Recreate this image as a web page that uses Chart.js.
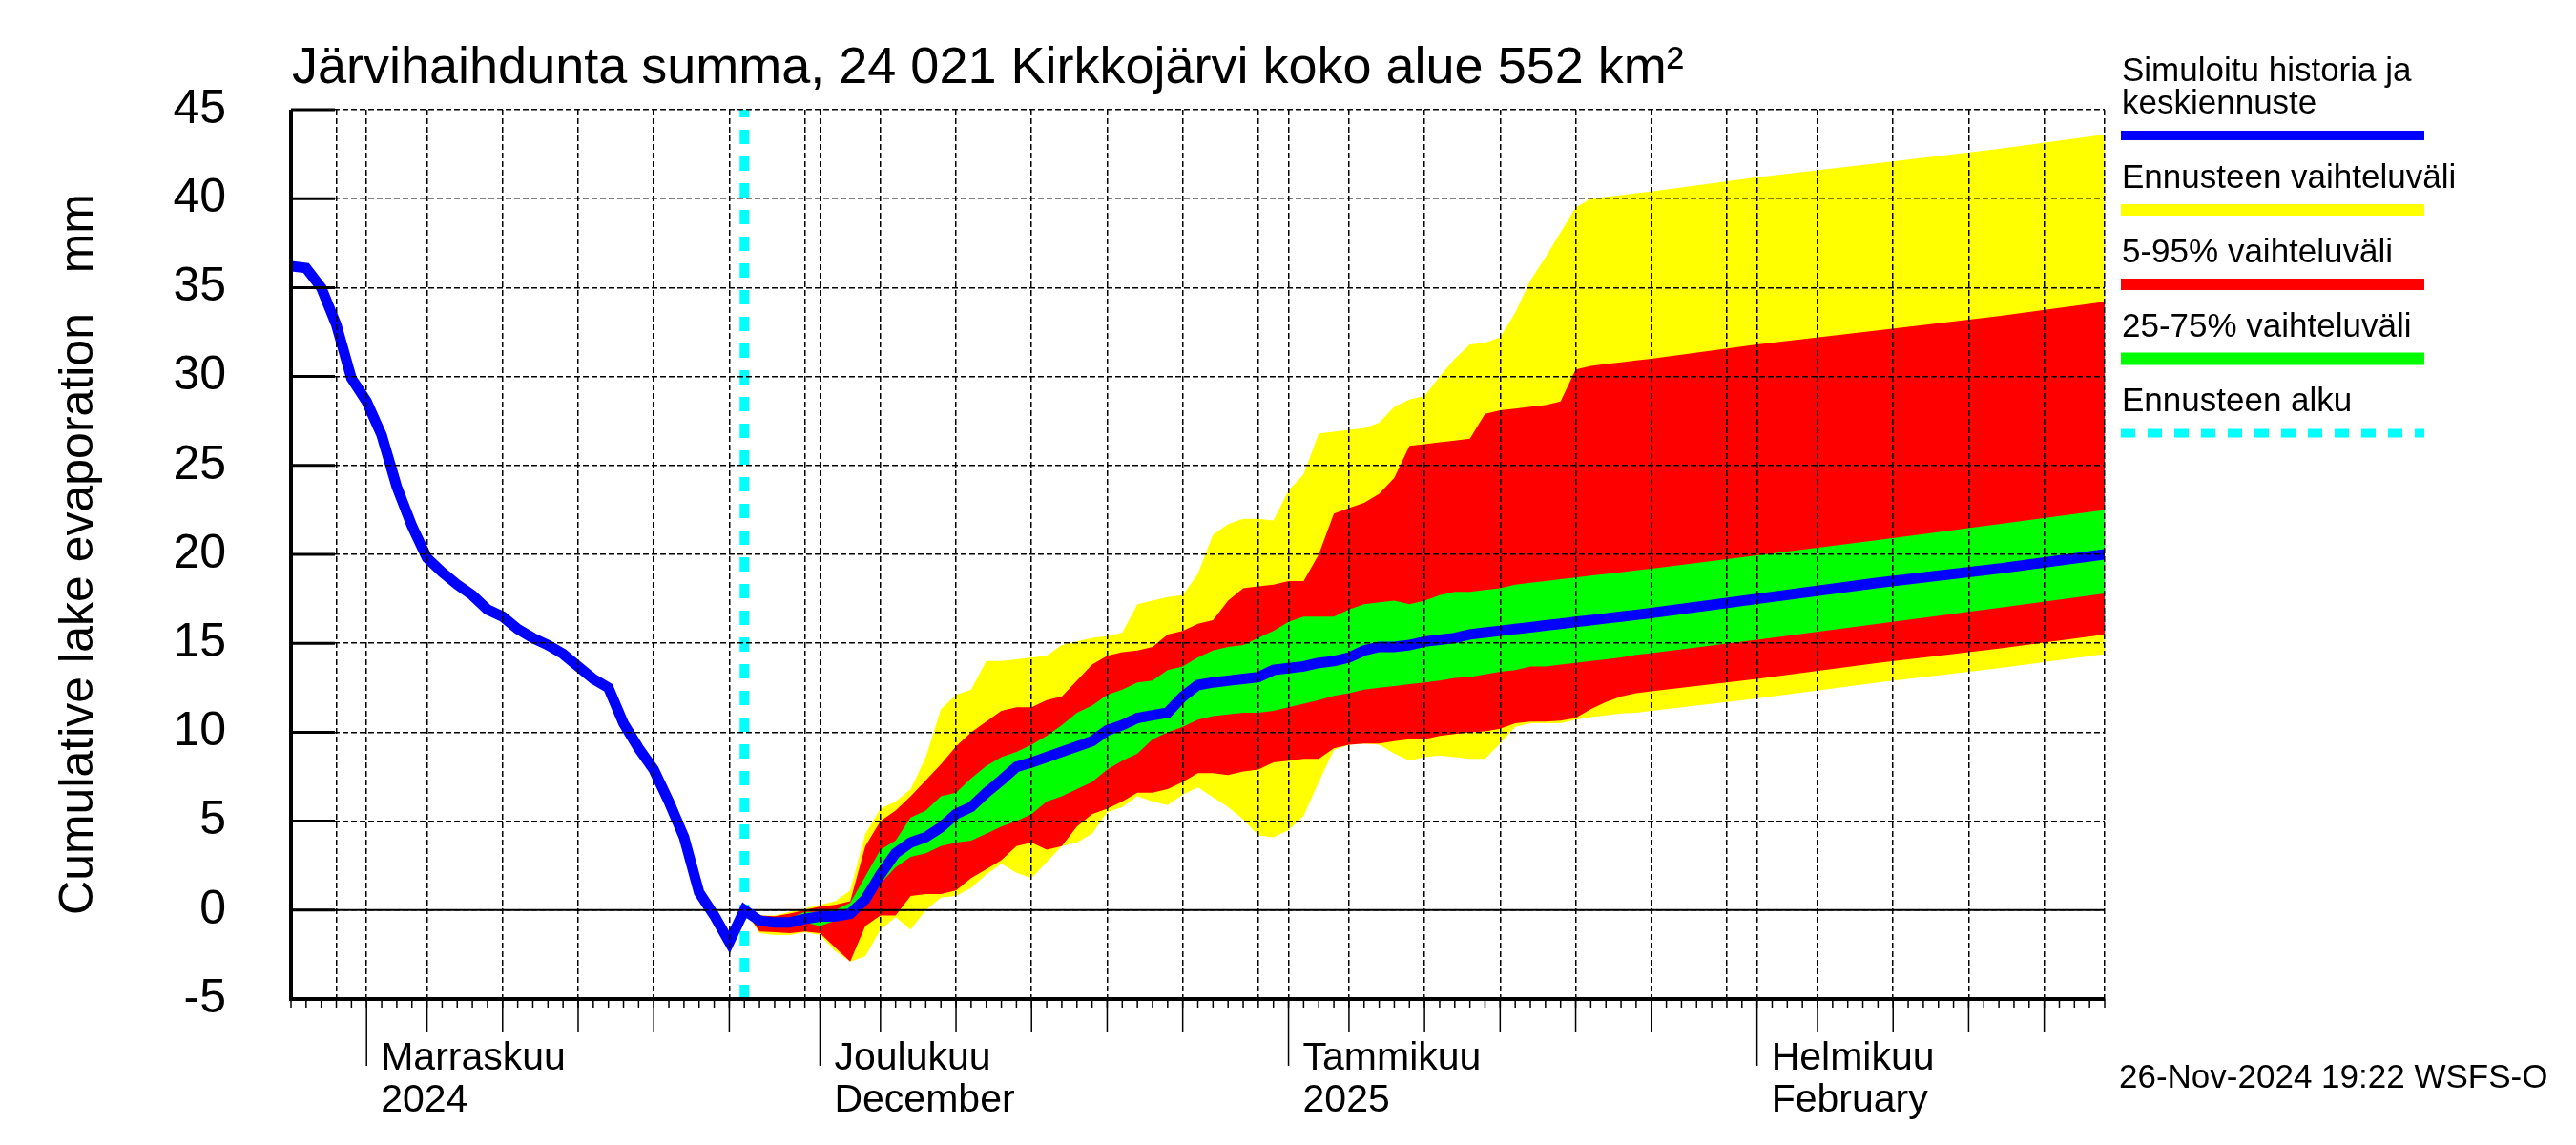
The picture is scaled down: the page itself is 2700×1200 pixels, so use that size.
<!DOCTYPE html>
<html>
<head>
<meta charset="utf-8">
<script src="https://cdn.jsdelivr.net/npm/chart.js@4.4.1/dist/chart.umd.min.js"></script>
<style>
  html, body { margin: 0; padding: 0; background: #fff; }
  #chart { display: block; }
</style>
</head>
<body>
<canvas id="chart" width="2700" height="1200"></canvas>
<script>
// days counted from 1 Nov 2024 (day 0)
const historyDays = [-5, -4, -3, -2, -1, 0, 1, 2, 3, 4, 5, 6, 7, 8, 9, 10, 11, 12, 13, 14, 15, 16, 17, 18, 19, 20, 21, 22, 23, 24, 25];
const historyValues = [36.2, 36.1, 35.0, 32.9, 29.9, 28.6, 26.7, 23.8, 21.6, 19.8, 19.0, 18.3, 17.7, 16.9, 16.5, 15.8, 15.3, 14.9, 14.4, 13.7, 13.0, 12.5, 10.5, 9.1, 7.9, 6.1, 4.1, 1.0, -0.3, -1.8, 0.0];

const forecastDays = [25, 26, 27, 28, 29, 30, 31, 32, 33, 34, 35, 36, 37, 38, 39, 40, 41, 42, 43, 44, 45, 46, 47, 48, 49, 50, 51, 52, 53, 54, 55, 56, 57, 58, 59, 60, 61, 62, 63, 64, 65, 66, 67, 68, 69, 70, 71, 72, 73, 74, 75, 76, 77, 78, 79, 80, 81, 82, 83, 84, 85, 92, 100, 108, 115];
const medianValues = [0.0, -0.6, -0.7, -0.7, -0.5, -0.36, -0.36, -0.2, 0.6, 2.0,
  3.2, 3.8, 4.1, 4.65, 5.4, 5.8, 6.6, 7.3, 8.05, 8.3,
  8.6, 8.9, 9.2, 9.5, 10.1, 10.4, 10.8, 10.95, 11.1, 12.0,
  12.65, 12.8, 12.9, 13.0, 13.1, 13.5, 13.6, 13.7, 13.9, 14.0,
  14.2, 14.6, 14.8, 14.8, 14.9, 15.1, 15.2, 15.3, 15.5, 15.6,
  15.7, 15.8, 15.9, 16.0, 16.1, 16.2,
  16.3, 16.4, 16.5, 16.6, 16.7, 17.5, 18.4, 19.2, 20.0];
const p75Values = [0.0, -0.45, -0.5, -0.45, -0.1, -0.1, 0.0, 0.4, 1.9, 3.4,
  3.9, 5.2, 5.6, 6.4, 6.6, 7.4, 8.1, 8.6, 8.9, 9.3,
  9.8, 10.4, 11.1, 11.5, 12.1, 12.4, 12.8, 12.9, 13.5, 13.7,
  14.2, 14.6, 14.8, 14.9, 15.3, 15.7, 16.2, 16.5, 16.5, 16.5,
  16.9, 17.2, 17.3, 17.4, 17.2, 17.4, 17.7, 17.9, 17.9, 18.0,
  18.1, 18.3, 18.4, 18.5, 18.6, 18.7,
  18.8, 18.9, 19.0, 19.1, 19.2, 19.95, 20.8, 21.7, 22.5];
const p25Values = [0.0, -0.8, -0.9, -0.8, -0.7, -0.9, -0.6, -0.35, 0.5, 1.5,
  2.4, 3.0, 3.2, 3.6, 3.8, 3.9, 4.3, 4.7, 5.0, 5.4,
  6.1, 6.4, 6.8, 7.2, 7.9, 8.4, 8.8, 9.6, 10.0, 10.3,
  10.7, 10.9, 11.0, 11.1, 11.1, 11.2, 11.4, 11.6, 11.8, 12.05,
  12.2, 12.4, 12.5, 12.6, 12.7, 12.8, 12.9, 13.05, 13.1, 13.25,
  13.4, 13.5, 13.7, 13.7, 13.8, 13.9,
  14.0, 14.1, 14.2, 14.35, 14.45, 15.2, 16.1, 17.0, 17.8];
const p95Values = [0.0, -0.3, -0.35, -0.2, 0.0, 0.2, 0.3, 0.5, 3.6, 5.0,
  5.6, 6.4, 7.3, 8.2, 9.2, 10.0, 10.6, 11.2, 11.4, 11.4,
  11.8, 12.0, 12.9, 13.8, 14.3, 14.5, 14.6, 14.8, 15.5, 15.7,
  16.1, 16.3, 17.4, 18.1, 18.2, 18.3, 18.5, 18.5, 20.0, 22.3,
  22.6, 22.9, 23.4, 24.3, 26.1, 26.2, 26.3, 26.4, 26.5, 27.9,
  28.1, 28.2, 28.3, 28.4, 28.6, 30.4,
  30.6, 30.7, 30.8, 30.9, 31.0, 31.8, 32.6, 33.4, 34.2];
const p5Values = [0.0, -1.2, -1.25, -1.3, -1.2, -1.3, -2.1, -2.9, -0.9, -0.3,
  -0.3, 0.8, 0.9, 0.9, 1.1, 1.8, 2.3, 2.8, 3.6, 3.8,
  3.4, 3.6, 4.7, 5.4, 5.7, 6.1, 6.6, 6.6, 6.8, 7.2,
  7.7, 7.7, 7.6, 7.8, 7.9, 8.3, 8.4, 8.5, 8.5, 9.1,
  9.3, 9.36, 9.36, 9.5, 9.6, 9.6, 9.8, 9.9, 10.0, 10.05,
  10.2, 10.5, 10.6, 10.6, 10.65, 10.8,
  11.3, 11.7, 12.0, 12.2, 12.3, 13.0, 13.9, 14.7, 15.5];
const maxValues = [0.0, -0.3, -0.3, -0.1, 0.1, 0.3, 0.5, 1.1, 4.3, 5.7,
  6.1, 6.8, 8.6, 11.3, 12.1, 12.4, 14.0, 14.0, 14.1, 14.2,
  14.3, 14.9, 15.1, 15.3, 15.4, 15.6, 17.2, 17.4, 17.6, 17.7,
  18.9, 21.1, 21.7, 22.0, 22.0, 21.9, 23.6, 24.5, 26.8, 26.9,
  27.0, 27.1, 27.4, 28.3, 28.7, 28.9, 30.0, 31.0, 31.8, 31.9,
  32.2, 33.6, 35.4, 36.7, 38.1, 39.5,
  40.0, 40.1, 40.2, 40.3, 40.4, 41.2, 42.0, 42.8, 43.6];
const minValues = [0.0, -1.3, -1.4, -1.4, -1.25, -1.4, -2.3, -2.9, -2.6, -1.1,
  -0.4, -1.1, 0.0, 0.7, 0.8, 1.25, 2.0, 2.6, 2.1, 1.8,
  2.7, 3.6, 3.8, 4.3, 5.5, 5.8, 6.4, 6.1, 5.9, 6.5,
  6.9, 6.35, 5.8, 5.1, 4.2, 4.1, 4.5, 5.3, 7.2, 9.0,
  9.3, 9.36, 9.3, 8.8, 8.4, 8.6, 8.7, 8.6, 8.5, 8.5,
  9.36, 10.3, 10.5, 10.5, 10.5, 10.7,
  10.85, 10.95, 11.05, 11.1, 11.2, 11.9, 12.8, 13.6, 14.4];

const forecastStart = 25;
const xMin = -5;
const xMax = 115;
const yMin = -5;
const yMax = 45;

// grid at month starts and every 5th day, 5-day tick marks below axis
const gridDays = [-2, 0, 4, 9, 14, 19, 24, 29, 30, 34, 39, 44, 49, 54, 59, 61, 65, 70, 75, 80, 85, 90, 92, 96, 101, 106, 111, 115];
const midTickDays = [4, 9, 14, 19, 24, 34, 39, 44, 49, 54, 65, 70, 75, 80, 85, 96, 101, 106, 111];
const monthStarts = [0, 30, 61, 92];
const monthLabels = [["Marraskuu", "2024"], ["Joulukuu", "December"], ["Tammikuu", "2025"], ["Helmikuu", "February"]];

const titleText = "Järvihaihdunta summa, 24 021 Kirkkojärvi koko alue 552 km²";
const yTitle = "Cumulative lake evaporation   mm";
const stampText = "26-Nov-2024 19:22 WSFS-O";

const legendItems = [
    { lines: ["Simuloitu historia ja", "keskiennuste"], color: "#0000ff", width: 10 },
    { lines: ["Ennusteen vaihteluväli"], color: "#ffff00", width: 12 },
    { lines: ["5-95% vaihteluväli"], color: "#ff0000", width: 12 },
    { lines: ["25-75% vaihteluväli"], color: "#00ff00", width: 13 },
    { lines: ["Ennusteen alku"], color: "#00ffff", width: 9, dash: [15, 13] }
];

const FONT = "'Liberation Sans', Arial, Helvetica, sans-serif";

function pares(days, values) {
    return days.map((d, i) => ({ x: d, y: values[i] }));
}

function banda(values, color, fill) {
    return {
        data: pares(forecastDays, values),
        borderColor: "transparent",
        borderWidth: 0,
        backgroundColor: color,
        pointRadius: 0,
        fill: fill
    };
}

function linha(ctx, x1, y1, x2, y2) {
    ctx.beginPath();
    ctx.moveTo(x1, y1);
    ctx.lineTo(x2, y2);
    ctx.stroke();
}

const decor = {
    id: "decor",
    beforeDatasetDraw(chart, args) {
        // solid zero line above the bands, below the forecast start and median lines
        if (args.index !== 1) return;
        const { ctx, chartArea: a, scales: { y } } = chart;
        const y0 = y.getPixelForValue(0);
        ctx.save();
        ctx.strokeStyle = "#000";
        ctx.lineWidth = 2;
        linha(ctx, a.left, y0, a.right, y0);
        ctx.restore();
    },
    afterDraw(chart) {
        const { ctx, chartArea: a, scales: { x, y } } = chart;
        ctx.save();
        ctx.strokeStyle = "#000";
        ctx.fillStyle = "#000";
        ctx.setLineDash([]);

        // axes
        ctx.lineWidth = 4;
        linha(ctx, a.left, a.top, a.left, a.bottom + 2);
        linha(ctx, a.left - 2, a.bottom, a.right, a.bottom);

        // inward y ticks
        ctx.lineWidth = 3;
        y.ticks.forEach(t => {
            const py = y.getPixelForValue(t.value);
            linha(ctx, a.left, py, a.left + 46, py);
        });

        // x tick marks below the axis
        ctx.lineWidth = 1.5;
        for (let d = xMin; d <= xMax; d++) {
            const px = x.getPixelForValue(d);
            linha(ctx, px, a.bottom, px, a.bottom + 9);
        }
        midTickDays.forEach(d => {
            const px = x.getPixelForValue(d);
            linha(ctx, px, a.bottom, px, a.bottom + 35);
        });
        monthStarts.forEach(d => {
            const px = x.getPixelForValue(d);
            linha(ctx, px, a.bottom, px, a.bottom + 70);
        });

        // month labels
        ctx.font = "41px " + FONT;
        ctx.textAlign = "left";
        ctx.textBaseline = "alphabetic";
        monthStarts.forEach((d, i) => {
            const px = x.getPixelForValue(d) + 15;
            ctx.fillText(monthLabels[i][0], px, a.bottom + 74);
            ctx.fillText(monthLabels[i][1], px, a.bottom + 118);
        });

        // title
        ctx.font = "54px " + FONT;
        ctx.fillText(titleText, a.left + 1, 87);

        // legend
        ctx.font = "35px " + FONT;
        let base = 85;
        const lx1 = 2223, lx2 = 2541;
        legendItems.forEach(item => {
            item.lines.forEach((txt, j) => {
                ctx.fillText(txt, lx1 + 1, base + j * 34);
            });
            const ly = base + (item.lines.length - 1) * 34 + 23;
            ctx.save();
            ctx.strokeStyle = item.color;
            ctx.lineWidth = item.width;
            ctx.setLineDash(item.dash || []);
            linha(ctx, lx1, ly, lx2, ly);
            ctx.restore();
            base = ly + 55;
        });

        // time stamp
        ctx.font = "35px " + FONT;
        ctx.fillText(stampText, 2221, 1140);
        ctx.restore();
    }
};

function criarGrafico() {
    const mediana = pares(historyDays, historyValues).concat(pares(forecastDays, medianValues).slice(1));

    new Chart(document.getElementById("chart"), {
        type: "line",
        data: {
            datasets: [
                {
                    label: "Simuloitu historia ja keskiennuste",
                    data: mediana,
                    borderColor: "#0000ff",
                    borderWidth: 11,
                    pointRadius: 0,
                    fill: false
                },
                {
                    label: "Ennusteen alku",
                    data: [{ x: forecastStart, y: yMin }, { x: forecastStart, y: yMax }],
                    borderColor: "#00ffff",
                    borderWidth: 10,
                    borderDash: [15, 13],
                    borderCapStyle: "butt",
                    pointRadius: 0,
                    fill: false
                },
                banda(p75Values, "#00ff00", "+1"),
                banda(p25Values, "#00ff00", false),
                banda(p95Values, "#ff0000", "+1"),
                banda(p5Values, "#ff0000", false),
                banda(maxValues, "#ffff00", "+1"),
                banda(minValues, "#ffff00", false)
            ]
        },
        options: {
            responsive: false,
            animation: false,
            devicePixelRatio: 1,
            layout: { padding: { left: 0, top: 115, right: 494, bottom: 153 } },
            plugins: {
                legend: { display: false },
                title: { display: false },
                tooltip: { enabled: false }
            },
            elements: { line: { tension: 0 } },
            scales: {
                x: {
                    type: "linear",
                    min: xMin,
                    max: xMax,
                    afterBuildTicks: scale => {
                        scale.ticks = gridDays.map(v => ({ value: v }));
                    },
                    afterFit: scale => { scale.height = 0; },
                    ticks: { display: false },
                    grid: { color: "#000", lineWidth: 1.5, drawTicks: false, z: 1 },
                    border: { display: false, dash: [6, 3] }
                },
                y: {
                    type: "linear",
                    min: yMin,
                    max: yMax,
                    afterFit: scale => { scale.width = 305; },
                    ticks: {
                        stepSize: 5,
                        color: "#000",
                        padding: 68,
                        font: { family: FONT, size: 50 }
                    },
                    title: {
                        display: true,
                        text: yTitle,
                        color: "#000",
                        font: { family: FONT, size: 50 },
                        padding: { top: 53, bottom: 0 }
                    },
                    grid: { color: "#000", lineWidth: 1.5, drawTicks: false, z: 1 },
                    border: { display: false, dash: [6, 3] }
                }
            }
        },
        plugins: [decor]
    });
}

document.addEventListener("DOMContentLoaded", () => {
    criarGrafico();
});
</script>
</body>
</html>
